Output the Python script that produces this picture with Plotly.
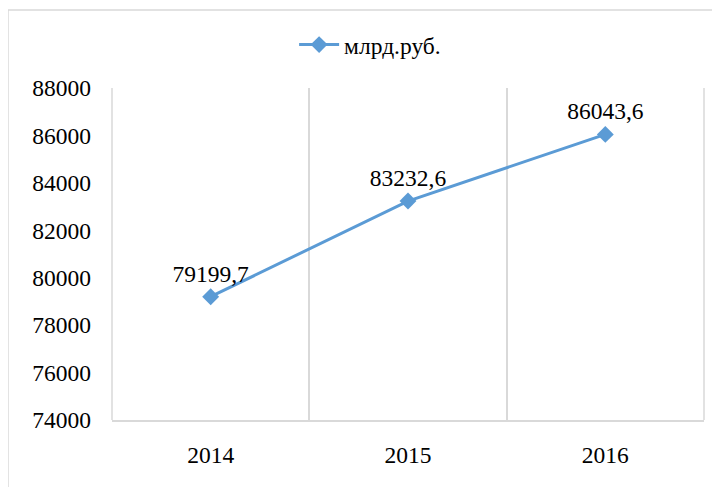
import plotly.graph_objects as go

# data
years = ["2014", "2015", "2016"]
values = [79199.7, 83232.6, 86043.6]
series_name = "млрд.руб."
y_ticks = [74000, 76000, 78000, 80000, 82000, 84000, 86000, 88000]

labels = [f"{v:.1f}".replace(".", ",") for v in values]

FONT = "Times New Roman, Liberation Serif, serif"
BLUE = "#5b9bd5"
GRID = "#d9d9d9"
FS = 23.5

fig = go.Figure()
fig.add_trace(go.Scatter(
    x=years, y=values, name=series_name,
    mode="lines+markers+text",
    text=labels, textposition="top center",
    textfont=dict(family=FONT, size=FS, color="black"),
    line=dict(color=BLUE, width=3),
    marker=dict(symbol="diamond", size=13, color=BLUE),
))

# outer frame of the chart object (paper coords, partly off-canvas)
fig.add_shape(type="rect", xref="paper", yref="paper",
              x0=-0.1757, x1=1.04, y0=-0.25, y1=1.235,
              line=dict(color=GRID, width=1.5), fillcolor="rgba(0,0,0,0)", layer="below")
# edge gridlines of the plot area
for xe in (0, 1):
    fig.add_shape(type="line", xref="paper", yref="paper", x0=xe, x1=xe, y0=0, y1=1,
                  line=dict(color=GRID, width=1.5), layer="below")

# page body has an 8px margin, so the figure is 8px smaller each way
fig.update_layout(
    width=712, height=479,
    margin=dict(l=104, r=16, t=80, b=67),
    paper_bgcolor="white", plot_bgcolor="white",
    font=dict(family=FONT, size=FS, color="black"),
    showlegend=True,
    legend=dict(orientation="h", x=0.436, xanchor="center", y=1.13, yanchor="middle",
                font=dict(family=FONT, size=FS, color="black"), itemwidth=40),
)
fig.update_xaxes(type="category", range=[-0.5, 2.5], tickson="boundaries",
                 showgrid=True, gridcolor=GRID, gridwidth=1.5,
                 showline=True, linecolor=GRID, linewidth=1.5,
                 ticks="", ticklabelstandoff=13, tickfont=dict(family=FONT, size=FS),
                 zeroline=False, automargin=False)
fig.update_yaxes(range=[74000, 88000], tickvals=y_ticks, tickformat="d",
                 showgrid=False, zeroline=False, showline=False, ticks="",
                 ticklabelstandoff=20, tickfont=dict(family=FONT, size=FS),
                 automargin=False)

fig.write_html("out.html")
